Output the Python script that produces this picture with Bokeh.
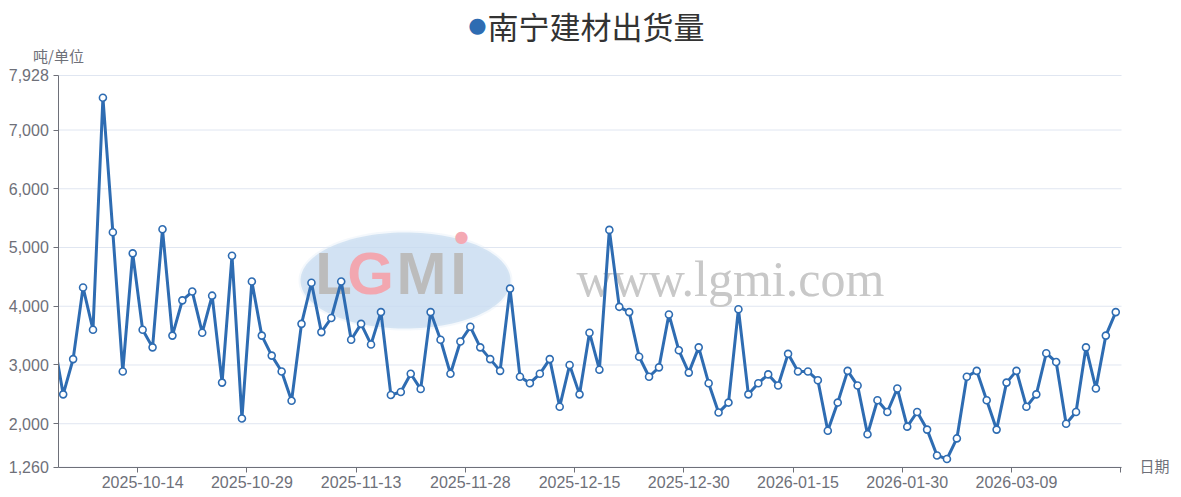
import numpy as np
from bokeh.plotting import figure
from bokeh.models import (Range1d, FixedTicker, NumeralTickFormatter, Label, PolyAnnotation,
                          BoxAnnotation)
from bokeh.embed import file_html
from bokeh.resources import INLINE

# ---------------- data ----------------
title_text = "南宁建材出货量"
y_name = "吨/单位"
x_name = "日期"

shipments = [
    3470, 2500, 3100, 4320, 3600, 7550, 5260, 2890, 4900, 3600,
    3300, 5310, 3500, 4100, 4250, 3550, 4180, 2700, 4860, 2090,
    4420, 3500, 3160, 2890, 2390, 3700, 4400, 3560, 3800, 4420,
    3430, 3700, 3350, 3900, 2490, 2540, 2850, 2590, 3900, 3430,
    2850, 3400, 3650, 3300, 3100, 2900, 4300, 2800, 2690, 2850,
    3100, 2290, 3000, 2500, 3550, 2920, 5300, 3990, 3900, 3140,
    2800, 2960, 3860, 3250, 2870, 3300, 2690, 2190, 2360, 3950,
    2500, 2690, 2840, 2650, 3190, 2890, 2890, 2740, 1880, 2360,
    2900, 2650, 1820, 2400, 2200, 2600, 1950, 2200, 1900, 1460,
    1400, 1750, 2800, 2900, 2400, 1900, 2700, 2900, 2290, 2500,
    3200, 3050, 2000, 2200, 3300, 2600, 3500, 3900,
]
tick_labels = ["2025-10-14", "2025-10-29", "2025-11-13", "2025-11-28", "2025-12-15",
               "2025-12-30", "2026-01-15", "2026-01-30", "2026-03-09"]
tick_index = [9, 20, 31, 42, 53, 64, 75, 86, 97]
y_ticks = [1260, 2000, 3000, 4000, 5000, 6000, 7000, 7928]

idx = list(range(len(shipments)))

BLUE = "#2E6CB2"
AXIS = "#6E7079"
GRID = "#E0E6F1"
FONT = "Liberation Sans"
CJK = "Noto Sans CJK SC"

# visible category window of the x axis (echarts-like zoom window)
x_lo, x_hi = 0.557, 107.58

# The frame covers the whole canvas; the axes are placed with fixed_location and
# limited with bounds, so the title and axis names (canvas-unit labels) are not clipped.
p = figure(width=1181, height=497, title=None,
           x_range=Range1d(-5.314, 113.62),
           y_range=Range1d(744.2, 9204.7),
           output_backend="svg", toolbar_location=None,
           min_border_left=0, min_border_right=0,
           min_border_top=0, min_border_bottom=0)
p.outline_line_color = None
p.background_fill_color = "white"
p.border_fill_color = "white"

# ---------------- grid (limited to the axis extent) ----------------
p.xgrid.visible = False
p.ygrid.visible = False
p.segment(x0=[x_lo] * len(y_ticks), x1=[x_hi] * len(y_ticks), y0=y_ticks, y1=y_ticks,
          line_color=GRID, line_width=1, level="underlay")

# ---------------- watermark ----------------
t = np.linspace(0, 2 * np.pi, 120)
p.add_layout(PolyAnnotation(xs=list(405 + 105 * np.cos(t)), ys=list(280 + 48 * np.sin(t)),
                            xs_units="canvas", ys_units="canvas",
                            fill_color="#c7dbf0", fill_alpha=0.8,
                            line_color="#dce8f5", line_width=4, level="underlay"))
for ch, cx, col in [("L", 333, "#bcbcbc"), ("G", 370, "#f2a7b0"), ("M", 421, "#bcbcbc"), ("I", 458, "#bcbcbc")]:
    p.add_layout(Label(x=cx, y=273, x_units="canvas", y_units="canvas", text=ch,
                       text_font=FONT, text_font_style="bold", text_font_size="60px",
                       text_color=col, text_align="center", text_baseline="middle",
                       level="underlay"))
p.add_layout(Label(x=461, y=236, x_units="canvas", y_units="canvas", text="●",
                   text_font="DejaVu Sans", text_font_size="16px", text_color="#f4a9b3",
                   text_align="center", text_baseline="middle", level="underlay"))
p.add_layout(Label(x=576, y=278, x_units="canvas", y_units="canvas", text="www.lgmi.com",
                   text_font="Liberation Serif", text_font_size="50px", text_color="#c8c8c8",
                   text_align="left", text_baseline="middle", level="underlay"))

# ---------------- series ----------------
p.line(idx, shipments, line_color=BLUE, line_width=3, line_join="round")
p.scatter(idx, shipments, marker="circle", size=7, fill_color="white",
          line_color=BLUE, line_width=1.6)
# the series is clipped at the y axis, like the zoomed category window of the original
p.add_layout(BoxAnnotation(right=x_lo, fill_color="white", fill_alpha=1,
                           line_alpha=0, level="glyph"))

# ---------------- axes ----------------
xa = p.xaxis[0]
xa.fixed_location = y_ticks[0]
xa.bounds = (x_lo, x_hi)
xa.ticker = FixedTicker(ticks=tick_index,
                        minor_ticks=[i - 0.5 for i in tick_index] + [tick_index[-1] + 10.5])
xa.major_label_overrides = {i: lab for i, lab in zip(tick_index, tick_labels)}
xa.major_tick_out = 0
xa.major_tick_in = 0
xa.minor_tick_out = 5
xa.minor_tick_in = 0
xa.minor_tick_line_color = AXIS
xa.axis_line_color = AXIS
xa.major_label_text_font = FONT
xa.major_label_text_font_size = "16px"
xa.major_label_text_color = AXIS
xa.major_label_standoff = 4

ya = p.yaxis[0]
ya.fixed_location = x_lo
ya.bounds = (y_ticks[0], y_ticks[-1])
ya.ticker = FixedTicker(ticks=y_ticks, minor_ticks=[])
ya.formatter = NumeralTickFormatter(format="0,0")
ya.major_tick_out = 5
ya.major_tick_in = 0
ya.major_tick_line_color = AXIS
ya.axis_line_color = AXIS
ya.major_label_text_font = FONT
ya.major_label_text_font_size = "16px"
ya.major_label_text_color = AXIS
ya.major_label_standoff = 5

# ---------------- title / axis names ----------------
p.add_layout(Label(x=477, y=24, x_units="canvas", y_units="canvas", text="●",
                   text_font="DejaVu Sans", text_font_size="21px", text_color=BLUE,
                   text_align="center", text_baseline="middle"))
p.add_layout(Label(x=487, y=24.5, x_units="canvas", y_units="canvas", text=title_text,
                   text_font=CJK, text_font_size="31px", text_color="#333333",
                   text_align="left", text_baseline="middle"))
p.add_layout(Label(x=58, y=55, x_units="canvas", y_units="canvas", text=y_name,
                   text_font=CJK, text_font_size="15px", text_color=AXIS,
                   text_align="center", text_baseline="middle"))
p.add_layout(Label(x=1139, y=465, x_units="canvas", y_units="canvas", text=x_name,
                   text_font=CJK, text_font_size="15px", text_color=AXIS,
                   text_align="left", text_baseline="middle"))

open("out.html", "w").write(file_html(p, INLINE))
